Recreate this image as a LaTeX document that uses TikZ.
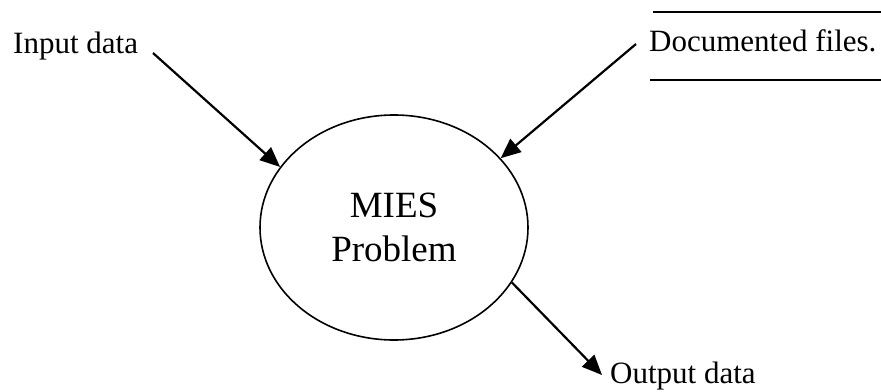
\documentclass[tikz,border=0pt]{standalone}
\usepackage{fontspec}
\setmainfont{Liberation Serif}
\usepackage{tikz}
\usetikzlibrary{arrows.meta}
\usetikzlibrary{shapes.geometric}

\begin{document}
\begin{tikzpicture}[x=1pt, y=-1pt,
  lbl/.style={inner sep=0pt, anchor=base west, font=\fontsize{31}{37}\selectfont},
  flow/.style={-{Triangle[length=20pt, width=17pt]}, line width=2.2pt}]
\useasboundingbox (0,0) rectangle (881,391);
\node [ellipse, draw=black, line width=1.6pt, minimum width=268pt, minimum height=225pt, align=center, inner sep=0pt, font=\fontsize{37}{44}\selectfont] (P) at (394, 227.5) {MIES\\Problem};
\node [lbl] (IN) at (13, 53) {Input data};
\node [lbl] (DF) at (649, 51) {Documented files.};
\node [lbl] (OUT) at (610, 383) {Output data};
\coordinate (INs) at (153, 53);
\coordinate (DFs) at (636, 44);
\coordinate (OUTe) at (602, 375);
% data store lines
\draw [line width=1.6pt] (653, 12) -- (881, 12);
\draw [line width=1.6pt] (650, 80) -- (881, 80);
\draw [flow] (INs) to (P.152.6);
\draw [flow] (DFs) to (P.33.4);
\draw [flow] (P.-25.6) to (OUTe);
\end{tikzpicture}
\end{document}
